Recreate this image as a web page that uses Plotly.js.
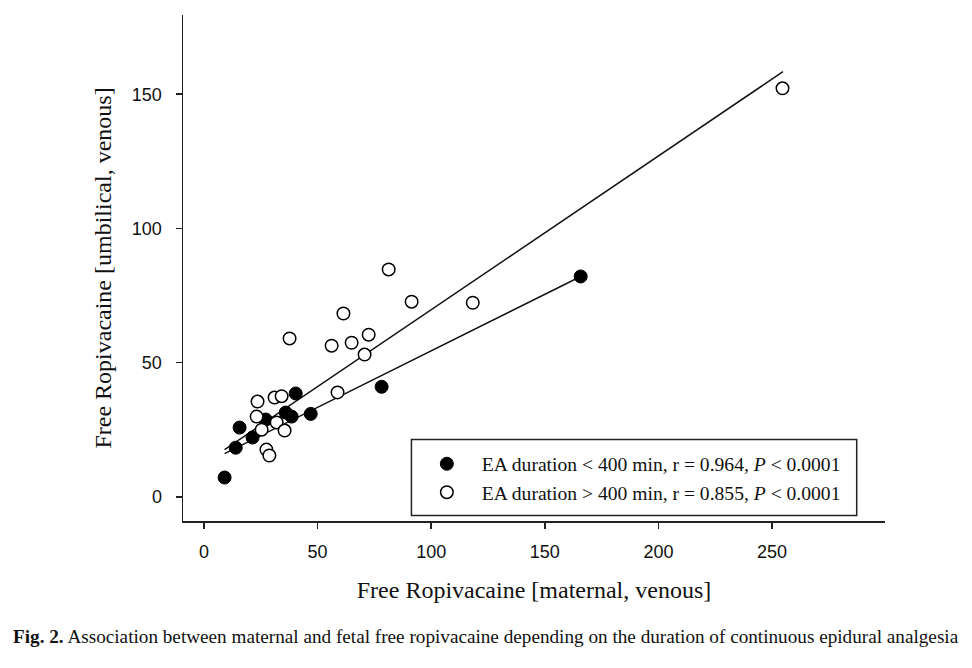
<!DOCTYPE html>
<html>
<head>
<meta charset="utf-8">
<script src="https://cdn.plot.ly/plotly-3.0.1.min.js"></script>
<style>
  html, body { margin: 0; padding: 0; background: #fff; }
  #chart { width: 972px; height: 668px; }
</style>
</head>
<body>
<div id="chart"></div>
<script>
// EA duration < 400 min (filled circles)
var shortX = [9.1, 14.0, 15.7, 21.4, 27.2, 36.0, 38.6, 40.4, 47.0, 78.2, 165.8];
var shortY = [7.2, 18.3, 25.8, 22.1, 28.8, 31.4, 29.9, 38.5, 30.9, 41.0, 82.1];

// EA duration > 400 min (open circles)
var longX = [254.6, 81.3, 61.4, 91.4, 118.3, 37.7, 56.2, 65.0, 72.5, 70.7,
             58.8, 23.6, 31.1, 34.2, 23.2, 32.0, 25.4, 35.5, 27.5, 28.8];
var longY = [152.2, 84.7, 68.3, 72.7, 72.3, 59.0, 56.3, 57.4, 60.4, 53.0,
             38.9, 35.5, 37.0, 37.5, 29.9, 27.7, 25.0, 24.7, 17.6, 15.4];

// regression lines, end points
var shortFitX = [9.1, 165.8];
var shortFitY = [16.1, 82.1];
var longFitX = [9.1, 254.8];
var longFitY = [17.6, 158.4];

var xTicks = [0, 50, 100, 150, 200, 250];
var yTicks = [0, 50, 100, 150];

var shortName = 'EA duration &lt; 400 min, r = 0.964, <i>P</i> &lt; 0.0001';
var longName = 'EA duration &gt; 400 min, r = 0.855, <i>P</i> &lt; 0.0001';
var caption = '<b>Fig. 2.</b> Association between maternal and fetal free ropivacaine depending on the duration of continuous epidural analgesia';

var serif = 'Liberation Serif, Times New Roman, serif';
var sans = 'Liberation Sans, Arial, sans-serif';

var fitShort = {
    x: shortFitX, y: shortFitY,
    mode: 'lines',
    line: {color: '#111', width: 1.5},
    showlegend: false,
    hoverinfo: 'skip'
};

var fitLong = {
    x: longFitX, y: longFitY,
    mode: 'lines',
    line: {color: '#111', width: 1.5},
    showlegend: false,
    hoverinfo: 'skip'
};

var traceShort = {
    x: shortX, y: shortY,
    mode: 'markers',
    name: shortName,
    marker: {symbol: 'circle', size: 13, color: '#000', line: {color: '#000', width: 1}}
};

var traceLong = {
    x: longX, y: longY,
    mode: 'markers',
    name: longName,
    marker: {symbol: 'circle', size: 12.5, color: '#fff', line: {color: '#000', width: 1.5}}
};

var layout = {
    width: 972,
    height: 668,
    margin: {l: 183, r: 87, t: 15, b: 147},
    paper_bgcolor: '#fff',
    plot_bgcolor: '#fff',
    showlegend: true,
    xaxis: {
        range: [-9.2, 299.7],
        tickvals: xTicks,
        ticks: 'outside',
        ticklen: 6,
        tickwidth: 1.5,
        tickcolor: '#222',
        showline: true,
        linecolor: '#222',
        linewidth: 1.5,
        showgrid: false,
        zeroline: false,
        ticklabelstandoff: 8,
        tickfont: {family: sans, size: 18, color: '#111'},
        title: {
            text: 'Free Ropivacaine [maternal, venous]',
            font: {family: serif, size: 24, color: '#111'},
            standoff: 20
        }
    },
    yaxis: {
        range: [-9, 179.5],
        tickvals: yTicks,
        ticks: 'outside',
        ticklen: 6,
        tickwidth: 1.5,
        tickcolor: '#222',
        showline: true,
        linecolor: '#222',
        linewidth: 1.5,
        showgrid: false,
        zeroline: false,
        ticklabelstandoff: 10,
        tickfont: {family: sans, size: 18, color: '#111'},
        title: {
            text: 'Free Ropivacaine [umbilical, venous]',
            font: {family: serif, size: 24, color: '#111'},
            standoff: 13
        }
    },
    legend: {
        x: 0.326, xanchor: 'left',
        y: 0.085, yanchor: 'middle',
        bgcolor: 'rgba(0,0,0,0)',
        borderwidth: 0,
        itemwidth: 60,
        font: {family: serif, size: 19.6, color: '#111'}
    },
    shapes: [{
        type: 'rect', xref: 'paper', yref: 'paper',
        x0: 0.3254, x1: 0.9597, y0: 0.0109, y1: 0.1609,
        line: {color: '#222', width: 1.5},
        fillcolor: 'rgba(0,0,0,0)'
    }],
    annotations: [{
        text: caption,
        xref: 'paper', yref: 'paper',
        x: -0.2445, xanchor: 'left',
        y: -0.228, yanchor: 'middle',
        showarrow: false,
        font: {family: serif, size: 19.2, color: '#111'}
    }]
};

Plotly.newPlot('chart', [fitShort, fitLong, traceShort, traceLong], layout, {displayModeBar: false, staticPlot: true});
</script>
</body>
</html>
